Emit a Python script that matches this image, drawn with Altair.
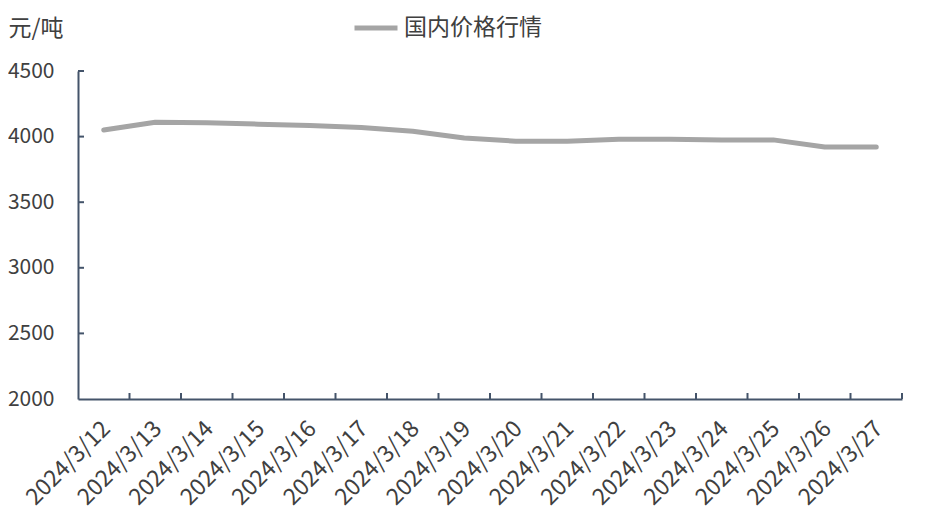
import altair as alt
import pandas as pd

dates = ["2024/3/12", "2024/3/13", "2024/3/14", "2024/3/15", "2024/3/16", "2024/3/17",
         "2024/3/18", "2024/3/19", "2024/3/20", "2024/3/21", "2024/3/22", "2024/3/23",
         "2024/3/24", "2024/3/25", "2024/3/26", "2024/3/27"]
prices = [4050, 4110, 4105, 4095, 4085, 4070, 4040, 3990, 3965, 3965, 3980, 3980,
          3975, 3975, 3920, 3920]
series_name = "国内价格行情"
y_ticks = [2000, 2500, 3000, 3500, 4000, 4500]

FONT = "Noto Sans CJK SC"
AXIS_COLOR = "#44546A"
LABEL_COLOR = "#404040"
W, H = 824, 328

df = pd.DataFrame({"date": dates, "price": prices, "series": series_name})
tick_df = pd.DataFrame({"v": y_ticks[1:]})

xscale = alt.Scale(type="band", paddingInner=0, paddingOuter=0)
yscale = alt.Scale(domain=[2000, 4500], nice=False, zero=False)

line = alt.Chart(df).mark_line(strokeWidth=5, strokeCap="round", strokeJoin="round").encode(
    x=alt.X("date:N", sort=dates, scale=xscale, title=None,
            axis=alt.Axis(labelAngle=-45, labelFont=FONT, labelFontSize=23,
                          labelColor=LABEL_COLOR, domainColor=AXIS_COLOR, domainWidth=2,
                          ticks=False, labelPadding=18, labelOffset=-5, grid=False)),
    y=alt.Y("price:Q", scale=yscale, title="元/吨",
            axis=alt.Axis(values=y_ticks, format="d", labelFont=FONT, labelFontSize=21,
                          labelColor=LABEL_COLOR, domainColor=AXIS_COLOR, domainWidth=2,
                          ticks=False, labelPadding=24, grid=False,
                          titleAngle=0, titleX=-70, titleY=-43, titleAlign="left",
                          titleBaseline="middle", titleFont=FONT, titleFontSize=23,
                          titleFontWeight="normal", titleColor=LABEL_COLOR)),
    color=alt.Color("series:N", scale=alt.Scale(range=["#A5A5A5"]),
                    legend=alt.Legend(title=None, orient="none", legendX=274, legendY=-67,
                                      symbolType="stroke", symbolSize=1849,
                                      symbolStrokeWidth=5, labelFont=FONT,
                                      labelFontSize=23, labelColor=LABEL_COLOR,
                                      labelOffset=4)),
)

xticks = alt.Chart(df).mark_rule(color=AXIS_COLOR, strokeWidth=2).encode(
    x=alt.X("date:N", sort=dates, scale=xscale, bandPosition=1),
    y=alt.value(H - 6),
    y2=alt.value(H),
)

yticks = alt.Chart(tick_df).mark_rule(color=AXIS_COLOR, strokeWidth=2).encode(
    y=alt.Y("v:Q", scale=yscale),
    x=alt.value(0),
    x2=alt.value(6),
)

chart = alt.layer(line, xticks, yticks).properties(
    width=W, height=H,
    background="white",
    autosize=alt.AutoSizeParams(type="none"),
    padding={"left": 70, "top": 63, "right": 30, "bottom": 125},
).configure_view(strokeWidth=0, stroke="transparent")

chart.save("out.html", embed_options={"renderer": "svg", "actions": False})
